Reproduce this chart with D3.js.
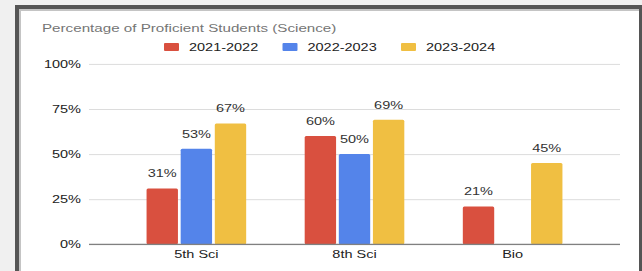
<!DOCTYPE html>
<meta charset="utf-8">
<script src="https://d3js.org/d3.v7.min.js"></script>
<style>
  body { margin: 0; background: #f0f0f0; }
  svg { display: block; font-family: "Liberation Sans", Arial, sans-serif; }
</style>
<div id="chart"></div>
<script>
// data
var categories = ["5th Sci", "8th Sci", "Bio"];
var years = ["2021-2022", "2022-2023", "2023-2024"];
var vals2122 = [31, 60, 21];
var vals2223 = [53, 50, null];
var vals2324 = [67, 69, 45];
var colors = ["#d9503f", "#5484ea", "#f0bf42"];
var yTicks = [0, 25, 50, 75, 100];
var title = "Percentage of Proficient Students (Science)";

var width = 642, height = 271;
var sx = 1.38; // the screenshot is stretched sideways, so is the text

var table = categories.map(function (c, i) {
  return { cat: c, vals: [vals2122[i], vals2223[i], vals2324[i]] };
});

var svg = d3.select("#chart").append("svg")
  .attr("width", width)
  .attr("height", height);

// window frame
svg.append("rect").attr("x", 15).attr("y", 5).attr("width", 627).attr("height", 280).attr("fill", "#555");
svg.append("rect").attr("x", 19).attr("y", 9).attr("width", 620).attr("height", 280).attr("fill", "#c4c4c4");
svg.append("rect").attr("x", 21).attr("y", 11).attr("width", 618).attr("height", 280).attr("fill", "#fff");

var plot = { left: 89, right: 620, top: 63.9, bottom: 244.3 };

var x0 = d3.scaleBand()
  .domain(categories)
  .range([plot.left, plot.right])
  .paddingInner(0.37)
  .paddingOuter(0.364);

var x1 = d3.scaleBand()
  .domain(years)
  .range([0, x0.bandwidth()])
  .paddingInner(0.08);

var y = d3.scaleLinear()
  .domain([0, 100])
  .range([plot.bottom, plot.top]);

var color = d3.scaleOrdinal().domain(years).range(colors);

// title
svg.append("text")
  .attr("transform", "translate(42,31.5) scale(" + sx + ",1)")
  .style("font-size", "11px")
  .style("fill", "#757575")
  .text(title);

// legend
var legend = svg.append("g").attr("transform", "translate(164,0)");
var item = legend.selectAll("g")
  .data(years)
  .enter().append("g")
  .attr("transform", function (d, i) { return "translate(" + (i * 118.5) + ",0)"; });
item.append("rect")
  .attr("y", 43)
  .attr("width", 15)
  .attr("height", 8)
  .attr("rx", 1)
  .attr("fill", function (d) { return color(d); });
item.append("text")
  .attr("transform", "translate(25,50.8) scale(" + sx + ",1)")
  .style("font-size", "10.5px")
  .style("fill", "#222")
  .text(function (d) { return d; });

// y axis + gridlines
var yAxis = svg.append("g")
  .attr("transform", "translate(" + plot.left + ",0)")
  .call(d3.axisLeft(y)
    .tickValues(yTicks)
    .tickSize(-(plot.right - plot.left))
    .tickPadding(8)
    .tickFormat(function (d) { return d + "%"; }));
yAxis.select(".domain").remove();
yAxis.selectAll(".tick line")
  .attr("stroke", "#dcdcdc");
yAxis.selectAll(".tick text")
  .attr("x", null)
  .attr("transform", "translate(-8,0) scale(" + sx + ",1)")
  .style("font-size", "10.5px")
  .style("font-family", "Liberation Sans, Arial, sans-serif")
  .style("fill", "#222");

// bars
var groups = svg.append("g").selectAll("g")
  .data(table)
  .enter().append("g")
  .attr("transform", function (d) { return "translate(" + x0(d.cat) + ",0)"; });

var cells = groups.selectAll("g")
  .data(function (d) {
    return years.map(function (yr, i) { return { year: yr, value: d.vals[i] }; })
      .filter(function (e) { return e.value != null; });
  })
  .enter().append("g");

cells.append("rect")
  .attr("x", function (d) { return x1(d.year); })
  .attr("y", function (d) { return y(d.value); })
  .attr("width", x1.bandwidth())
  .attr("height", function (d) { return y(0) - y(d.value); })
  .attr("rx", 1.5)
  .attr("fill", function (d) { return color(d.year); });

cells.append("text")
  .attr("transform", function (d) {
    return "translate(" + (x1(d.year) + x1.bandwidth() / 2) + "," + (y(d.value) - 11) + ") scale(" + sx + ",1)";
  })
  .attr("text-anchor", "middle")
  .style("font-size", "10.5px")
  .style("fill", "#333")
  .text(function (d) { return d.value + "%"; });

// baseline
svg.append("line")
  .attr("x1", plot.left).attr("x2", plot.right)
  .attr("y1", y(0)).attr("y2", y(0))
  .attr("stroke", "#808080")
  .attr("stroke-width", 1.3);

// x axis labels
var xAxis = svg.append("g")
  .attr("transform", "translate(0," + y(0) + ")")
  .call(d3.axisBottom(x0).tickSize(0).tickPadding(6));
xAxis.select(".domain").remove();
xAxis.selectAll(".tick text")
  .attr("transform", "scale(" + sx + ",1)")
  .style("font-size", "10.5px")
  .style("font-family", "Liberation Sans, Arial, sans-serif")
  .style("fill", "#222");
</script>
